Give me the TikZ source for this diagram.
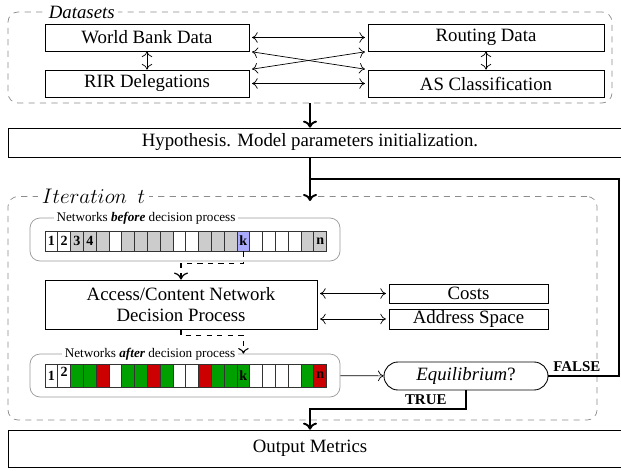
\documentclass[tikz,border=0pt]{standalone}
\usepackage{fontspec}
\setmainfont{Liberation Serif}
\usetikzlibrary{arrows.meta}

\definecolor{cellgray}{RGB}{204,204,204}
\definecolor{cellgreen}{RGB}{0,160,0}
\definecolor{cellred}{RGB}{204,0,0}
\definecolor{cellblue}{RGB}{170,170,255}

\begin{document}
\begin{tikzpicture}[
    font=\fontsize{10.7}{12}\selectfont,
    >={Computer Modern Rightarrow[length=3.2pt,width=6pt]},
    box/.style={draw, line width=0.5pt, minimum height=0.54cm, inner sep=1pt},
    group/.style={draw=black!45, dash pattern=on 3.5pt off 3pt, rounded corners=0.2cm},
    grouplbl/.style={fill=white, inner sep=2pt, anchor=west},
    netbox/.style={draw=black!40, rounded corners=0.2cm, minimum width=6.2cm, minimum height=0.86cm},
    netlbl/.style={fill=white, inner sep=1.5pt, font=\fontsize{7.5}{9}\selectfont},
    cell/.style={draw=black!80, minimum width=0.256cm, inner sep=0pt, font=\fontsize{8}{9}\selectfont\bfseries},
    dbl/.style={<->, shorten <=1.5pt, shorten >=1.5pt},
    flow/.style={-{Computer Modern Rightarrow[length=4pt,width=8pt]}, line width=1.1pt},
    tf/.style={font=\fontsize{8.5}{10}\selectfont\bfseries, inner sep=2pt},
  ]
    \useasboundingbox (0,0) rectangle (12.42,9.4);

    % datasets
    \node[group, minimum width=12.08cm, minimum height=1.82cm] (ds) at (6.2,8.25) {};
    \node[grouplbl] (dslbl) at (0.9,9.16) {\textit{Datasets}};
    \node[box, minimum width=4.08cm] (wb) at (2.94,8.65) {World Bank Data};
    \node[box, minimum width=4.08cm] (rir) at (2.94,7.73) {RIR Delegations};
    \node[box, minimum width=4.72cm] (rd) at (9.72,8.65) {Routing Data};
    \node[box, minimum width=4.72cm] (as) at (9.72,7.73) {AS Classification};

    \draw[dbl] (wb) -- (rd);
    \draw[dbl] (wb.south east) -- (as.north west);
    \draw[dbl] (rir.north east) -- (rd.south west);
    \draw[dbl, shorten <=0pt, shorten >=0pt] (wb) -- (rir);
    \draw[dbl, shorten <=0pt, shorten >=0pt] (rd) -- (as);
    \draw[dbl] (rir) -- (as);

    % hypothesis
    \node[minimum height=0.58cm] (hyp) at (6.2,6.55) {Hypothesis. Model parameters initialization.};
    \draw[line width=0.5pt] (0.16,6.26) rectangle (12.6,6.84);

    % iteration
    \node[group, minimum width=11.78cm, minimum height=4.47cm] (it) at (6.05,3.235) {};
    \node[grouplbl] (itlbl) at (0.76,5.47) {\fontsize{12}{14}\selectfont$Iteration~~t$};

    \node[netbox] (bef) at (3.7,4.61) {};
    \node[netlbl] (beflbl) at (2.92,5.04) {Networks \textbf{\textit{before}} decision process};
    \foreach \col/\lab [count=\i] in {white/1, white/2, cellgray/3, cellgray/4, cellgray/{}, white/{},
        cellgray/{}, cellgray/{}, cellgray/{}, cellgray/{}, white/{}, white/{}, cellgray/{}, cellgray/{},
        cellgray/{}, cellblue/k, white/{}, white/{}, white/{}, white/{}, cellgray/{}, cellgray/n}
      \node[cell, fill=\col, minimum height=0.4cm] (b\i) at ({0.9+(\i-0.5)*0.256},4.58) {\lab};

    \node[box, minimum width=5.44cm, minimum height=0.98cm, align=center] (acc) at (3.62,3.31)
      {Access/Content Network\\Decision Process};
    \node[box, minimum width=3.18cm, minimum height=0.38cm, inner sep=0pt] (cost) at (9.37,3.53) {Costs};
    \node[box, minimum width=3.18cm, minimum height=0.4cm, inner sep=0pt] (addr) at (9.37,3.02) {Address Space};

    \node[netbox] (aft) at (3.7,1.89) {};
    \node[netlbl] (aftlbl) at (3.0,2.32) {Networks \textbf{\textit{after}} decision process};
    \foreach \col/\lab [count=\i] in {white/{\raisebox{-2pt}{1}}, white/{\raisebox{4pt}{2}}, cellgreen/{},
        cellgreen/{}, cellred/{}, white/{}, cellgreen/{}, cellgreen/{}, cellred/{}, cellgreen/{}, white/{},
        white/{}, cellred/{}, cellgreen/{}, cellgreen/{}, cellgreen/k, white/{}, white/{}, white/{},
        white/{}, cellgreen/{}, cellred/n}
      \node[cell, fill=\col, minimum height=0.46cm] (a\i) at ({0.9+(\i-0.5)*0.256},1.89) {\lab};

    \node[box, rounded corners=0.28cm, minimum width=3.28cm, minimum height=0.56cm] (eq) at (9.32,1.88)
      {\textit{Equilibrium}?};

    % output
    \node[minimum height=0.74cm] (out) at (6.2,0.43) {Output Metrics};
    \draw[line width=0.5pt] (0.16,0.06) rectangle (12.6,0.8);

    % flow
    \coordinate (join) at (6.2,5.82);
    \coordinate (itin) at (6.2,5.38);
    \draw[flow] (ds.south) -- (hyp.north);
    \draw[flow] (hyp.south) -- (itin);
    \draw[flow, line width=0.7pt, dashed] (b16.south) -- ++(0,-0.24) -| (acc.north);
    \draw[->, dashed, semithick] (acc.south) -- ++(0,-0.12) -| (a16 |- aft.north);
    \draw[dbl] (acc.east |- cost.west) -- (cost.west);
    \draw[dbl] (acc.east |- addr.west) -- (addr.west);
    \draw[->] (aft) -- (eq);
    \draw[flow, -] (eq.east) -- node[tf, above, pos=0.4] (false) {FALSE} ++(1.42,0) |- (join);
    \draw[flow] (eq.south) -- ++(0,-0.38) node[tf, above left, xshift=-0.3cm] (true) {TRUE} -| (out.north);
\end{tikzpicture}
\end{document}
